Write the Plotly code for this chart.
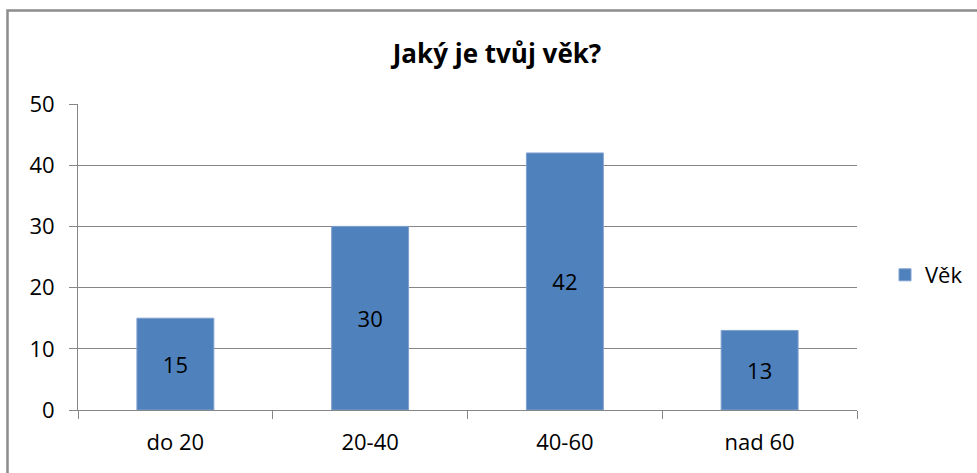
import plotly.graph_objects as go

categories = ["do 20", "20-40", "40-60", "nad 60"]
values = [15, 30, 42, 13]
series_name = "Věk"
title_text = "Jaký je tvůj věk?"

W, H = 977, 473
ml, mr, mt, mb = 78, 120, 104, 63
FONT = "Open Sans, sans-serif"

fig = go.Figure()
fig.add_trace(go.Bar(
    x=categories, y=values, name=series_name,
    marker=dict(color="#4F81BD", line=dict(color="#7FA0CF", width=1)),
    width=0.395,
    text=values, textposition="inside", insidetextanchor="middle",
    textfont=dict(family=FONT, size=22, color="#000000"),
    showlegend=True,
))

pw = W - ml - mr
ph = H - mt - mb
fig.add_shape(type="rect", xref="paper", yref="paper",
              x0=(7.5 - ml) / pw, x1=(995 - ml) / pw,
              y0=-(495 - (H - mb)) / ph, y1=1 + (mt - 10.5) / ph,
              line=dict(color="#8C8C8C", width=2.5), fillcolor="rgba(0,0,0,0)", layer="below")

fig.update_layout(
    width=W, height=H,
    margin=dict(l=ml, r=mr, t=mt, b=mb, autoexpand=False),
    paper_bgcolor="white", plot_bgcolor="white",
    title=dict(text="<b>" + title_text + "</b>", x=497 / W, xanchor="center",
               y=1 - 54 / H, yanchor="middle",
               font=dict(family=FONT, size=26, color="#000000")),
    font=dict(family=FONT, size=22, color="#000000"),
    legend=dict(xref="container", yref="container", x=885 / W, y=1 - 275 / H,
                xanchor="left", yanchor="middle",
                font=dict(size=22), itemwidth=30),
    bargap=0.6,
)
fig.update_xaxes(type="category", showline=True, linecolor="#868686", linewidth=1,
                 ticks="outside", tickson="boundaries", ticklen=8, tickcolor="#868686",
                 showgrid=False, tickfont=dict(size=22), ticklabelstandoff=13)
fig.update_yaxes(range=[0, 50], dtick=10, showline=True, linecolor="#868686", linewidth=1,
                 ticks="outside", ticklen=8, tickcolor="#868686",
                 showgrid=True, gridcolor="#868686", gridwidth=1, zeroline=False,
                 tickfont=dict(size=22), ticklabelstandoff=10)

fig.write_html("out.html", config={"displayModeBar": False},
               post_script="document.body.style.margin='0';")
